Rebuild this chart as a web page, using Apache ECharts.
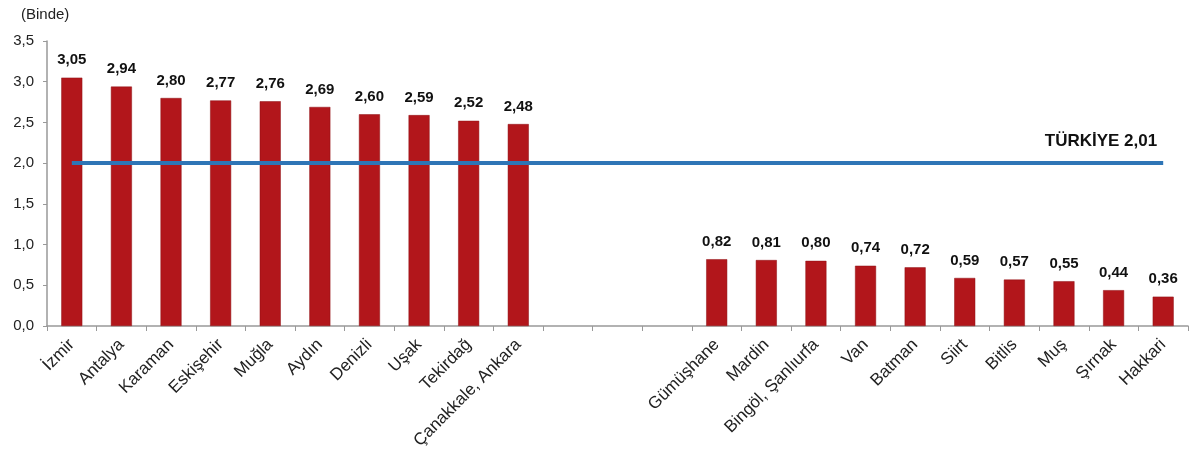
<!DOCTYPE html>
<html><head><meta charset="utf-8">
<script src="https://cdn.jsdelivr.net/npm/echarts@6/dist/echarts.min.js"></script>
<style>html,body{margin:0;padding:0;background:#fff}#c{width:1200px;height:462px}</style>
</head><body><div id="c"></div>
<script>
const categories = ['İzmir','Antalya','Karaman','Eskişehir','Muğla','Aydın','Denizli','Uşak','Tekirdağ','Çanakkale, Ankara','','','','Gümüşhane','Mardin','Bingöl, Şanlıurfa','Van','Batman','Siirt','Bitlis','Muş','Şırnak','Hakkari'];
const values = [3.05,2.94,2.80,2.77,2.76,2.69,2.60,2.59,2.52,2.48,null,null,null,0.82,0.81,0.80,0.74,0.72,0.59,0.57,0.55,0.44,0.36];
const turkiyeValue = 2.01;
const turkiyeLabel = 'TÜRKİYE';
const unitLabel = '(Binde)';

const fmt = (v, d) => v.toFixed(d).replace('.', ',');
const FONT = 'Liberation Sans, Arial, sans-serif';
const chart = echarts.init(document.getElementById('c'));
chart.setOption({
  animation: false,
  textStyle: { fontFamily: FONT },
  graphic: [{ type: 'text', left: 21, top: 7, style: { text: unitLabel, fontSize: 15, fill: '#222', fontFamily: FONT } }],
  grid: { left: 47, right: 12, top: 41, bottom: 136 },
  xAxis: {
    type: 'category', data: categories,
    axisLine: { lineStyle: { color: '#999', width: 1.5 } },
    axisTick: { show: true, length: 5, lineStyle: { color: '#999' } },
    axisLabel: { rotate: 45, fontSize: 17, color: '#222', interval: 0, margin: 16 }
  },
  yAxis: {
    type: 'value', min: 0, max: 3.5, interval: 0.5,
    splitLine: { show: false },
    axisLine: { show: true, lineStyle: { color: '#999', width: 1.5 } },
    axisTick: { show: true, length: 4, lineStyle: { color: '#999' } },
    axisLabel: { fontSize: 15, color: '#222', margin: 13, formatter: v => fmt(v, 1) }
  },
  series: [{
    type: 'bar', data: values, barWidth: 21,
    itemStyle: { color: '#B2161B', borderColor: '#8E1014', borderWidth: 0.5 },
    label: { show: true, position: 'top', distance: 10, fontSize: 15, fontWeight: 'bold', color: '#111', formatter: p => fmt(p.value, 2) },
    markLine: {
      symbol: 'none', silent: true,
      lineStyle: { color: '#2E75B6', width: 4, type: 'solid' },
      label: { show: true, position: 'insideEndTop', distance: [6, 13], fontSize: 17, fontWeight: 'bold', color: '#111',
        formatter: turkiyeLabel + ' ' + fmt(turkiyeValue, 2) },
      data: [[{ coord: [0, turkiyeValue] }, { coord: [categories.length - 1, turkiyeValue] }]]
    }
  }]
});
</script></body></html>
